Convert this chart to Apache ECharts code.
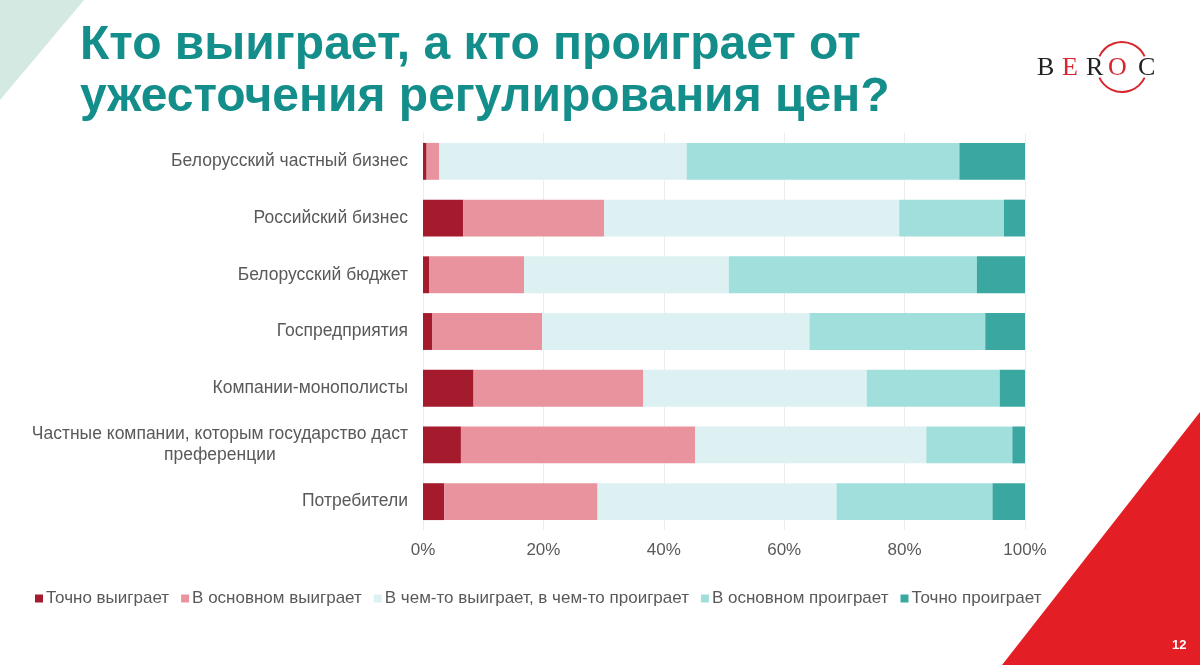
<!DOCTYPE html>
<html><head><meta charset="utf-8">
<script src="https://cdn.jsdelivr.net/npm/echarts@6/dist/echarts.min.js"></script>
<style>html,body{margin:0;padding:0;background:#fff}#c{width:1200px;height:665px}</style>
</head><body><div id="c"></div>
<script>
const categories = [
  'Белорусский частный бизнес',
  'Российский бизнес',
  'Белорусский бюджет',
  'Госпредприятия',
  'Компании-монополисты',
  'Частные компании, которым государство даст\nпреференции',
  'Потребители'
];
const seriesNames = ['Точно выиграет','В основном выиграет','В чем-то выиграет, в чем-то проиграет','В основном проиграет','Точно проиграет'];
const tochnoVyigraet   = [0.6, 6.7, 1.0, 1.5, 8.4, 6.3, 3.5];
const vOsnVyigraet     = [2.1, 23.4, 15.8, 18.3, 28.2, 38.9, 25.5];
const vChemTo          = [41.1, 49.0, 34.0, 44.4, 37.1, 38.4, 39.7];
const vOsnProigraet    = [45.3, 17.4, 41.2, 29.2, 22.1, 14.3, 25.9];
const tochnoProigraet  = [10.9, 3.5, 8.0, 6.6, 4.2, 2.1, 5.4];
const xTicks = [0, 20, 40, 60, 80, 100];

const colors = ['#A51B2E','#E8939E','#DDF0F2','#A1DFDC','#3AA7A1'];
const data = [tochnoVyigraet, vOsnVyigraet, vChemTo, vOsnProigraet, tochnoProigraet];
const FONT = 'Liberation Sans, Arial, sans-serif';

const chart = echarts.init(document.getElementById('c'));
chart.setOption({
  animation: false,
  textStyle: {fontFamily: FONT},
  title: {
    text: 'Кто выиграет, а кто проиграет от\nужесточения регулирования цен?',
    left: 75, top: 15,
    textStyle: {color: '#148E8A', fontSize: 48, fontWeight: 'bold', lineHeight: 52, fontFamily: FONT}
  },
  legend: {
    data: seriesNames, left: 30, top: 585,
    itemWidth: 8, itemHeight: 8, itemGap: 12,
    icon: 'rect',
    textStyle: {color: '#595959', fontSize: 17, padding: [0,0,0,-2]}
  },
  grid: {left: 423, right: 175, top: 133, bottom: 135},
  xAxis: {
    type: 'value', min: 0, max: 100, interval: 20,
    axisLabel: {formatter: v => xTicks.includes(v) ? v + '%' : '', color: '#595959', fontSize: 17, margin: 12},
    splitLine: {lineStyle: {color: '#EDEDED'}},
    axisLine: {show: false}, axisTick: {show: false}
  },
  yAxis: {
    type: 'category', data: categories, inverse: true,
    axisLine: {show: true, lineStyle: {color: '#EDEDED'}}, axisTick: {show: false},
    axisLabel: {
      color: '#595959', fontSize: 17.5, margin: 15, lineHeight: 21,
      formatter: v => {
        if (v.indexOf('\n') >= 0) { const p = v.split('\n'); return '{a|' + p[0] + '}\n{b|' + p[1] + '}'; }
        return v;
      },
      rich: {a: {color:'#595959', fontSize: 17.5, lineHeight: 21}, b: {color:'#595959', fontSize: 17.5, lineHeight: 21, align: 'center'}}
    }
  },
  series: seriesNames.map((n, i) => ({
    name: n, type: 'bar', stack: 's', data: data[i], barCategoryGap: '35%',
    itemStyle: {color: colors[i]}
  })),
  graphic: [
    {type: 'polygon', z: -10, shape: {points: [[0,0],[84,0],[0,100]]}, style: {fill: '#D3E9E1'}},
    {type: 'polygon', z: -10, shape: {points: [[1200,412],[1200,665],[1002,665]]}, style: {fill: '#E31E25'}},
    {type: 'text', left: 1172, top: 639, style: {text: '12', fill: '#fff', font: 'bold 13px Liberation Sans, Arial'}},
    {type: 'arc', shape: {cx: 1122, cy: 67, r: 25, startAngle: Math.PI*1.14, endAngle: Math.PI*1.86, clockwise: true}, style: {stroke: '#D7262E', lineWidth: 2, fill: null}},
    {type: 'arc', shape: {cx: 1122, cy: 67, r: 25, startAngle: Math.PI*0.14, endAngle: Math.PI*0.86, clockwise: true}, style: {stroke: '#D7262E', lineWidth: 2, fill: null}},
    {type: 'text', x: 1037, y: 55, style: {text: 'B', fill: '#222', font: '26px Liberation Serif, serif'}},
    {type: 'text', x: 1062, y: 55, style: {text: 'E', fill: '#D7262E', font: '26px Liberation Serif, serif'}},
    {type: 'text', x: 1086, y: 55, style: {text: 'R', fill: '#222', font: '26px Liberation Serif, serif'}},
    {type: 'text', x: 1108, y: 55, style: {text: 'O', fill: '#D7262E', font: '26px Liberation Serif, serif'}},
    {type: 'text', x: 1138, y: 55, style: {text: 'C', fill: '#222', font: '26px Liberation Serif, serif'}}
  ]
});
</script></body></html>
